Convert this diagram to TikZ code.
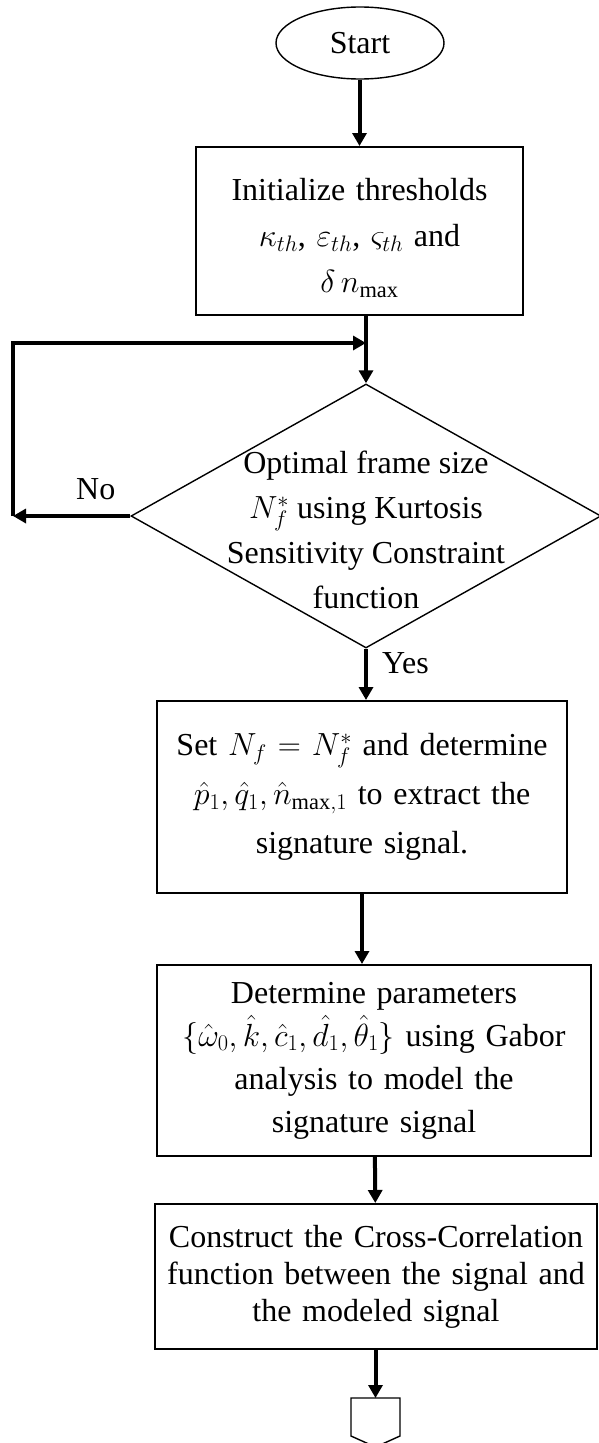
\documentclass[tikz,border=0pt]{standalone}
\usepackage{fix-cm}
\usepackage{fontspec}
\setmainfont{Liberation Serif}
\usetikzlibrary{arrows.meta,shapes.geometric}
\tikzset{
  txt/.style={font=\fontsize{32}{46}\selectfont, inner sep=0pt},
  proc/.style={txt, draw, line width=2pt, rectangle, align=center, inner xsep=4pt},
  term/.style={txt, draw, line width=1.4pt, ellipse, minimum width=168pt, minimum height=72pt},
  decision/.style={draw, line width=1.4pt, diamond, minimum width=470pt, minimum height=264pt, inner sep=0pt},
  dtext/.style={txt, align=center, font=\fontsize{32}{45}\selectfont},
  lbl/.style={txt, anchor=base west},
  arr/.style={-{Triangle[length=13pt,width=14pt]}, line width=4pt},
  offpage/.style={draw, line width=1.4pt},
}

\begin{document}
\begin{tikzpicture}[x=1pt, y=-1pt]
  \useasboundingbox (0,0) rectangle (599,1443);
  \node[term] (start) at (360,43) {Start};
  \node[proc, text width=319pt, minimum height=168pt] (init) at (359.5,231)
    {\rule{0pt}{36pt}Initialize thresholds\\$\kappa_{th}$, $\varepsilon_{th}$, $\varsigma_{th}$ and\\$\delta\, n_{\max}$};
  \node[decision] (frame) at (366,516) {};
  \node[dtext] (frametxt) at (366,530)
    {Optimal frame size\\$N_f^{*}$ using Kurtosis\\Sensitivity Constraint\\function};
  \node[proc, text width=402pt, minimum height=192pt, font=\fontsize{32}{49}\selectfont] (setn) at (362,797)
    {Set $N_f = N_f^{*}$ and determine\\$\hat{p}_1, \hat{q}_1, \hat{n}_{\max,1}$ to extract the\\signature signal.};
  \node[proc, text width=426pt, minimum height=191pt, font=\fontsize{32}{43}\selectfont] (gabor) at (374,1060.5)
    {Determine parameters\\$\{\hat{\omega}_0, \hat{k}, \hat{c}_1, \hat{d}_1, \hat{\theta}_1\}$ using Gabor\\analysis to model the\\signature signal};
  \node[proc, text width=434pt, minimum height=145pt, font=\fontsize{32}{37}\selectfont] (xcorr) at (376,1276.5)
    {Construct the Cross-Correlation\\function between the signal and\\the modeled signal};
  \coordinate (pg) at (375.5,1398);
  \draw[offpage] (351,1398) -- (400,1398) -- (400,1436) -- (375.5,1447) -- (351,1436) -- cycle;

  \coordinate (lpb) at (13,516);
  \coordinate (lpt) at (13,343);
  \node[lbl] (no) at (76,499) {No};
  \node[lbl] (yes) at (382,673) {Yes};

  \draw[arr] (start.south -| init.north) -- (init.north);
  \draw[arr] (init.south -| frame.north) -- (frame.north);
  \draw[arr] (frame.west) -- (lpb);
  \draw[arr] (lpb) -- (lpt) -- (lpt -| frame.north);
  \draw[arr] (frame.south) -- (frame.south |- setn.north);
  \draw[arr] (setn.south) -- (setn.south |- gabor.north);
  \draw[arr] (gabor) -- (xcorr);
  \draw[arr] (xcorr.south -| pg) -- (pg);
\end{tikzpicture}
\end{document}
